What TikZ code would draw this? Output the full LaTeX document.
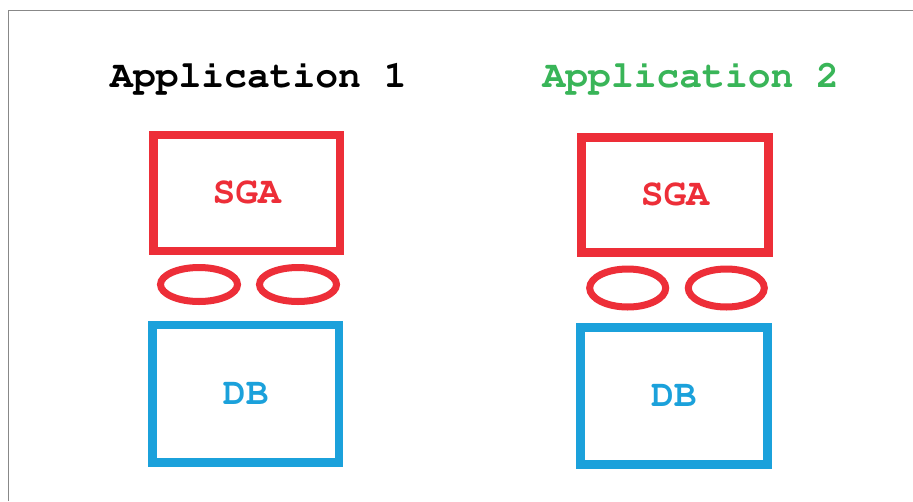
\documentclass[tikz,border=0pt]{standalone}
\usepackage[T1]{fontenc}
\usepackage{courier}
\usetikzlibrary{shapes.geometric}
\definecolor{sgared}{RGB}{237,46,56}
\definecolor{dbblue}{RGB}{27,161,219}
\definecolor{appgreen}{RGB}{57,181,88}
\definecolor{framegray}{RGB}{136,136,136}
\tikzset{
  lbl/.style={font=\ttfamily\bfseries\fontsize{38}{38}\selectfont},
  sgabox/.style={draw=sgared, line width=8.5pt, text=sgared, lbl, inner sep=0pt, rectangle},
  dbbox/.style={draw=dbblue, line width=8.5pt, text=dbblue, lbl, inner sep=0pt, rectangle},
  ring/.style={draw=sgared, line width=7pt, ellipse, inner sep=0pt},
  title/.style={lbl, anchor=base, inner sep=0pt}
}
\begin{document}
\begin{tikzpicture}[x=1pt,y=-1pt]
\useasboundingbox (0,0) rectangle (913,501);
\fill[white] (0,0) rectangle (913,501);
% frame
\coordinate (fa) at (8.5,501);
\coordinate (fb) at (8.5,10.5);
\coordinate (fc) at (913,10.5);
\draw[framegray, line width=1.2pt] (fa) -- (fb) -- (fc);
% titles
\node[title] (t1) at (258.4,87) {Application 1};
\node[title, text=appgreen] (t2) at (690.8,87.5) {Application 2};
% application 1
\node[sgabox, minimum width=186.5pt, minimum height=116pt] (sga1) at (246.75,193) {SGA};
\node[ring, minimum width=77pt, minimum height=34pt] (e1a) at (199,284.5) {};
\node[ring, minimum width=77pt, minimum height=34pt] (e1b) at (298,284.5) {};
\node[dbbox, minimum width=186.5pt, minimum height=137.5pt] (db1) at (245.75,393.75) {DB};
% application 2
\node[sgabox, minimum width=187pt, minimum height=115pt] (sga2) at (675,195) {SGA};
\node[ring, minimum width=76pt, minimum height=38pt] (e2a) at (627.7,288) {};
\node[ring, minimum width=76pt, minimum height=38pt] (e2b) at (726.3,288) {};
\node[dbbox, minimum width=187pt, minimum height=136.7pt] (db2) at (673.8,396) {DB};
\end{tikzpicture}
\end{document}
